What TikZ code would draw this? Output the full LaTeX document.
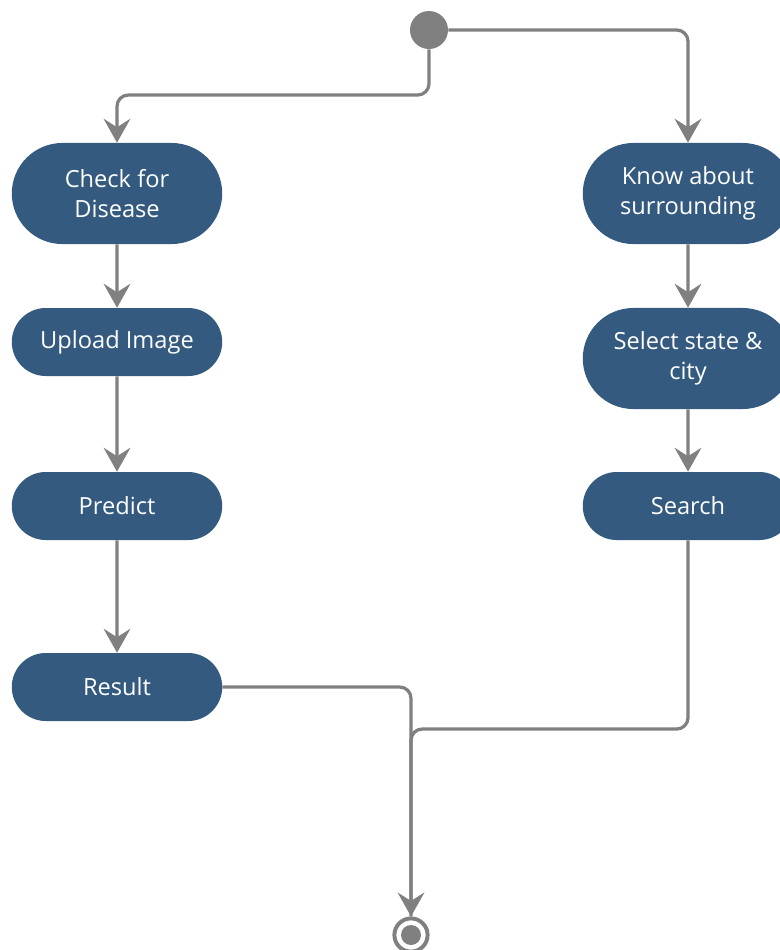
\documentclass[tikz,border=0pt]{standalone}
\usepackage{fontspec}
\setmainfont{Open Sans}
\usetikzlibrary{arrows.meta,shapes.misc}
\definecolor{nodeblue}{RGB}{52,91,127}
\definecolor{linegray}{RGB}{128,128,128}
\begin{document}
\begin{tikzpicture}[
			x=0.025cm, y=-0.025cm,
			>={Stealth[length=17pt, width=19pt, inset=6pt]},
			activity/.style={rounded rectangle, fill=nodeblue, text=white, align=center,
				minimum width=5.4cm, minimum height=1.7cm, inner sep=2pt,
				font=\fontsize{16.8}{21.5}\selectfont},
			tall/.style={minimum height=2.525cm},
			flow/.style={->, linegray, line width=2.3pt, rounded corners=8pt},
			startnode/.style={circle, fill=linegray, minimum size=0.95cm, inner sep=0pt},
			endnode/.style={circle, draw=linegray, line width=2.8pt, fill=white, minimum size=0.83cm, inner sep=0pt}
		]
			\useasboundingbox (0,0) rectangle (779,950);
			
			\node[startnode] (start) at (429,30) {};
			
			% left column
			\node[activity, tall] (check) at (117,193.5) {Check for\\Disease};
			\node[activity] (upload) at (117,342) {Upload Image};
			\node[activity] (predict) at (117,506) {Predict};
			\node[activity] (result) at (117,687) {Result};
			
			% right column
			\node[activity, tall] (know) at (688,193.5) {Know about\\surrounding};
			\node[activity, tall] (select) at (688,358.5) {Select state \&\\city};
			\node[activity] (search) at (688,506) {Search};
			
			\node[endnode] (stop) at (411,935) {};
			\fill[linegray] (stop.center) circle (10);
			\coordinate (bend) at (429,95);
			\coordinate (merge) at (411,729);
			
			\draw[flow] (start.south) -- (bend) -| (check.north);
			\draw[flow] (start.east) -| (know.north);
			\draw[flow] (check) -- (upload);
			\draw[flow] (upload) -- (predict);
			\draw[flow] (predict) -- (result);
			\draw[flow] (know) -- (select);
			\draw[flow] (select) -- (search);
			\draw[flow] (result.east) -| (stop.north);
			\draw[flow, -] (search.south) |- (merge) -- (stop.north);
		\end{tikzpicture}
\end{document}
